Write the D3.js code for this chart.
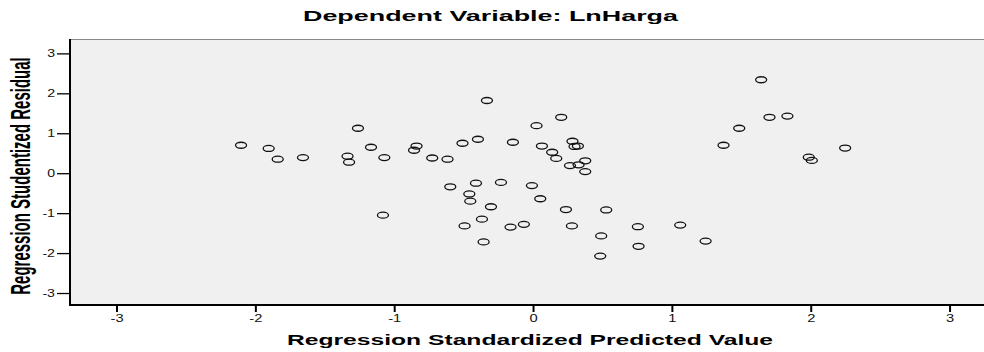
<!DOCTYPE html>
<html>
<head>
<meta charset="utf-8">
<script src="https://cdn.jsdelivr.net/npm/d3@7"></script>
<style>
  body { margin: 0; background: #fff; }
  svg { display: block; font-family: "Liberation Sans", Arial, sans-serif; }
</style>
</head>
<body>
<div id="chart"></div>
<script>
const chartTitle = 'Dependent Variable: LnHarga';
const xTitle = 'Regression Standardized Predicted Value';
const yTitle = 'Regression Studentized Residual';
const xTicks = [-3, -2, -1, 0, 1, 2, 3];
const yTicks = [-3, -2, -1, 0, 1, 2, 3];

// standardized predicted value for each case
const predicted = [
  -2.103, -1.904, -1.839, -1.657, -1.261, -1.336, -1.325, -1.167, -1.071, -1.081,
  -0.332, 0.025, -0.839, -0.857, -0.508, -0.397, -0.145, 0.064, -0.726, -0.616,
  -0.596, -0.411, -0.231, -0.008, -0.459, -0.452, 0.052, -0.303, -0.368, -0.493,
  -0.162, -0.066, -0.356, 0.203, 0.284, 0.299, 0.323, 0.138, 0.167, 0.376,
  0.266, 0.328, 0.376, 0.237, 0.527, 0.280, 0.755, 1.060, 0.491, 0.760,
  0.484, 1.243, 1.643, 1.703, 1.832, 1.485, 1.372, 2.248, 1.986, 2.008
];
// studentized residual for each case
const residual = [
  0.70, 0.62, 0.35, 0.39, 1.125, 0.425, 0.275, 0.65, 0.39, -1.05,
  1.82, 1.19, 0.68, 0.575, 0.75, 0.85, 0.775, 0.68, 0.38, 0.35,
  -0.34, -0.25, -0.23, -0.31, -0.52, -0.70, -0.64, -0.84, -1.15, -1.32,
  -1.35, -1.28, -1.72, 1.40, 0.80, 0.67, 0.68, 0.525, 0.37, 0.31,
  0.19, 0.21, 0.04, -0.91, -0.92, -1.32, -1.34, -1.30, -1.57, -1.83,
  -2.075, -1.70, 2.34, 1.40, 1.43, 1.125, 0.70, 0.63, 0.40, 0.32
];

const width = 984, height = 352;
const plot = { left: 70, right: 984, top: 39, bottom: 305 };

const svg = d3.select('#chart').append('svg')
  .attr('width', width)
  .attr('height', height);

const x = d3.scaleLinear().domain([-3.335, 3.248]).range([plot.left, plot.right]);
const y = d3.scaleLinear().domain([-3.3, 3.36]).range([plot.bottom, plot.top]);

// plot background
svg.append('rect')
  .attr('x', plot.left).attr('y', plot.top)
  .attr('width', plot.right - plot.left).attr('height', plot.bottom - plot.top)
  .attr('fill', '#f0f0f0');

svg.append('line')
  .attr('x1', plot.left).attr('x2', plot.right)
  .attr('y1', plot.top + 0.5).attr('y2', plot.top + 0.5)
  .attr('stroke', '#8a8a8a').attr('stroke-width', 1);

// stretch tick labels a bit wider, like the source
function widen(sel, k) {
  sel.selectAll('text').each(function () {
    const w = this.getComputedTextLength();
    d3.select(this).attr('textLength', w * k).attr('lengthAdjust', 'spacingAndGlyphs');
  });
}

const yAxis = svg.append('g')
  .attr('transform', `translate(${plot.left},0)`)
  .call(d3.axisLeft(y).tickValues(yTicks).tickFormat(d => String(d)).tickSize(13).tickPadding(2));
yAxis.select('.domain').remove();
yAxis.selectAll('line').attr('stroke', '#000').attr('stroke-width', 1.3);
yAxis.selectAll('text').attr('font-size', 10.5).attr('fill', '#111');
widen(yAxis, 1.35);
yAxis.append('line')
  .attr('x1', 0).attr('x2', 0).attr('y1', plot.top).attr('y2', plot.bottom + 1)
  .attr('stroke', '#000').attr('stroke-width', 2);

const xAxis = svg.append('g')
  .attr('transform', `translate(0,${plot.bottom})`)
  .call(d3.axisBottom(x).tickValues(xTicks).tickFormat(d => String(d)).tickSize(7).tickPadding(3));
xAxis.select('.domain').remove();
xAxis.selectAll('line').attr('stroke', '#000').attr('stroke-width', 2);
xAxis.selectAll('text').attr('font-size', 10.5).attr('fill', '#111');
widen(xAxis, 1.4);
xAxis.append('line')
  .attr('x1', plot.left - 1).attr('x2', plot.right).attr('y1', 0).attr('y2', 0)
  .attr('stroke', '#000').attr('stroke-width', 2);

// points
svg.append('g')
  .selectAll('ellipse')
  .data(predicted.map((p, i) => ({ p, r: residual[i] })))
  .enter()
  .append('ellipse')
  .attr('cx', d => x(d.p))
  .attr('cy', d => y(d.r))
  .attr('rx', 5.5)
  .attr('ry', 3)
  .attr('fill', 'none')
  .attr('stroke', '#111')
  .attr('stroke-width', 1.3);

// titles
svg.append('text')
  .attr('x', 490.5).attr('y', 21)
  .attr('text-anchor', 'middle')
  .attr('font-size', 14).attr('font-weight', 'bold')
  .attr('textLength', 375).attr('lengthAdjust', 'spacingAndGlyphs')
  .text(chartTitle);

svg.append('text')
  .attr('x', 530).attr('y', 345)
  .attr('text-anchor', 'middle')
  .attr('font-size', 14).attr('font-weight', 'bold')
  .attr('textLength', 486).attr('lengthAdjust', 'spacingAndGlyphs')
  .text(xTitle);

// rotated title, stretched sideways like the source image
svg.append('text')
  .attr('transform', 'translate(30,176) scale(1.85,1) rotate(-90)')
  .attr('text-anchor', 'middle')
  .attr('font-size', 15).attr('font-weight', 'bold')
  .text(yTitle);
</script>
</body>
</html>
